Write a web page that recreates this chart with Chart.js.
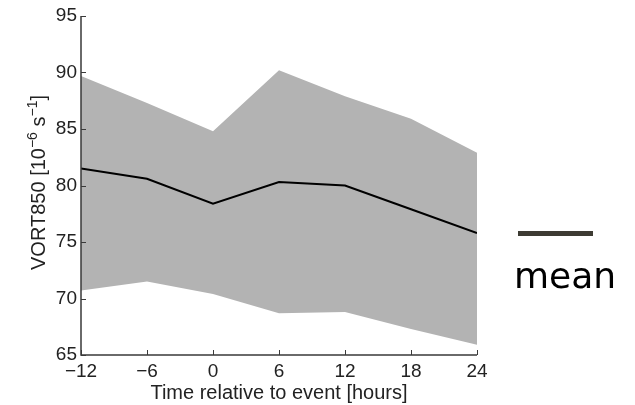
<!DOCTYPE html>
<html>
<head>
<meta charset="utf-8">
<script src="https://cdn.jsdelivr.net/npm/chart.js@4.4.1/dist/chart.umd.min.js"></script>
<style>
  html, body { margin: 0; padding: 0; background: #fff; }
  #wrap { width: 635px; height: 405px; }
</style>
</head>
<body>
<div id="wrap"><canvas id="vortChart" width="635" height="405"></canvas></div>
<script>
const hours = [-12, -6, 0, 6, 12, 18, 24];
const meanVals = [81.5, 80.6, 78.4, 80.3, 80.0, 77.9, 75.8];
const upperVals = [89.7, 87.3, 84.8, 90.2, 87.9, 85.9, 82.9];
const lowerVals = [70.7, 71.5, 70.4, 68.7, 68.8, 67.3, 65.9];
const xTicks = [-12, -6, 0, 6, 12, 18, 24];
const yTicks = [65, 70, 75, 80, 85, 90, 95];

const toPoints = vals => vals.map((v, i) => ({ x: hours[i], y: v }));
const minus = v => String(v).replace('-', '\u2212');

// axes with inward ticks, titles and the side legend
const decorations = {
    id: 'decorations',
    afterDraw(chart) {
        const { ctx, chartArea: a, scales: { x, y } } = chart;
        ctx.save();
        ctx.strokeStyle = '#3a3a3a';
        ctx.lineWidth = 1.5;
        ctx.beginPath();
        ctx.moveTo(a.left, a.top);
        ctx.lineTo(a.left, a.bottom);
        ctx.lineTo(a.right, a.bottom);
        ctx.stroke();
        ctx.lineWidth = 1;
        yTicks.forEach(t => {
            const py = Math.round(y.getPixelForValue(t)) + 0.5;
            ctx.beginPath();
            ctx.moveTo(a.left, py);
            ctx.lineTo(a.left + 5, py);
            ctx.stroke();
        });
        xTicks.forEach(t => {
            const px = Math.round(x.getPixelForValue(t)) + 0.5;
            ctx.beginPath();
            ctx.moveTo(px, a.bottom);
            ctx.lineTo(px, a.bottom - 5);
            ctx.stroke();
        });

        // x title
        ctx.fillStyle = '#222';
        ctx.font = '20px "Liberation Sans", Arial, sans-serif';
        ctx.textAlign = 'center';
        ctx.textBaseline = 'alphabetic';
        ctx.fillText('Time relative to event [hours]', (a.left + a.right) / 2, 399);

        // y title with superscripts
        const parts = [
            { t: 'VORT850 [10' }, { t: '\u22126', sup: true },
            { t: ' s' }, { t: '\u22121', sup: true }, { t: ']' }
        ];
        const big = '20px "Liberation Sans", Arial, sans-serif';
        const small = '14px "Liberation Sans", Arial, sans-serif';
        let total = 0;
        parts.forEach(p => { ctx.font = p.sup ? small : big; p.w = ctx.measureText(p.t).width; total += p.w; });
        ctx.translate(45, (a.top + a.bottom) / 2 - 3);
        ctx.rotate(-Math.PI / 2);
        ctx.textAlign = 'left';
        let cx = -total / 2;
        parts.forEach(p => {
            ctx.font = p.sup ? small : big;
            ctx.fillText(p.t, cx, p.sup ? -8 : 0);
            cx += p.w;
        });
        ctx.restore();

        // legend
        ctx.save();
        ctx.strokeStyle = '#3d3b33';
        ctx.lineWidth = 5;
        ctx.beginPath();
        ctx.moveTo(518, 233.5);
        ctx.lineTo(593, 233.5);
        ctx.stroke();
        ctx.fillStyle = '#000';
        ctx.font = '36px "DejaVu Sans", sans-serif';
        ctx.textAlign = 'left';
        ctx.fillText('mean', 514, 288);
        ctx.restore();
    }
};

new Chart(document.getElementById('vortChart'), {
    type: 'line',
    data: {
        datasets: [
            {
                label: 'mean',
                data: toPoints(meanVals),
                borderColor: '#000',
                borderWidth: 2,
                pointRadius: 0,
                fill: false,
                order: 0
            },
            {
                label: 'upper',
                data: toPoints(upperVals),
                borderWidth: 0,
                borderColor: 'rgba(0,0,0,0)',
                backgroundColor: '#b3b3b3',
                pointRadius: 0,
                fill: '+1',
                order: 1
            },
            {
                label: 'lower',
                data: toPoints(lowerVals),
                borderWidth: 0,
                borderColor: 'rgba(0,0,0,0)',
                pointRadius: 0,
                fill: false,
                order: 2
            }
        ]
    },
    options: {
        responsive: false,
        animation: false,
        layout: { padding: { top: 16, right: 158, left: 0, bottom: 0 } },
        plugins: { legend: { display: false }, tooltip: { enabled: false } },
        scales: {
            x: {
                type: 'linear',
                min: -12,
                max: 24,
                afterFit: s => { s.height = 50; },
                afterBuildTicks: s => { s.ticks = xTicks.map(v => ({ value: v })); },
                grid: { display: false, drawTicks: false },
                border: { display: false },
                ticks: {
                    padding: 5,
                    color: '#222',
                    font: { family: '"Liberation Sans", Arial, sans-serif', size: 19 },
                    callback: minus
                }
            },
            y: {
                min: 65,
                max: 95,
                afterFit: s => { s.width = 81; },
                afterBuildTicks: s => { s.ticks = yTicks.map(v => ({ value: v })); },
                grid: { display: false, drawTicks: false },
                border: { display: false },
                ticks: {
                    padding: 4,
                    color: '#222',
                    font: { family: '"Liberation Sans", Arial, sans-serif', size: 19 }
                }
            }
        }
    },
    plugins: [decorations]
});
</script>
</body>
</html>
